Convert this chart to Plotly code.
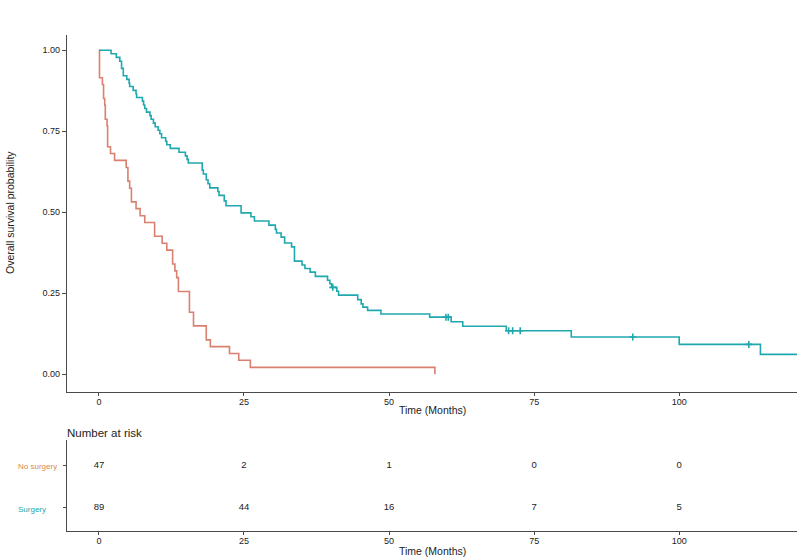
import plotly.graph_objects as go

# ---- data ----
# No surgery (Kaplan-Meier steps: time in months, survival after the step)
nosurg_t = [0, 0.1, 0.6, 0.8, 1.0, 1.1, 1.4, 1.5, 2.0, 2.7,
            4.7, 5.0, 5.3, 5.6, 6.4, 7.1, 7.9, 9.6, 10.9, 11.7,
            12.7, 13.1, 13.4, 13.7, 15.6, 16.3, 18.5, 19.2, 22.5, 24.1,
            26.1, 57.9]
nosurg_s = [1.000, 0.915, 0.894, 0.851, 0.830, 0.787, 0.766, 0.702, 0.681, 0.660,
            0.638, 0.596, 0.574, 0.532, 0.511, 0.489, 0.468, 0.426, 0.404, 0.383,
            0.340, 0.319, 0.298, 0.255, 0.191, 0.149, 0.106, 0.085, 0.064, 0.043,
            0.021, 0.000]

# Surgery
surg_t = [0, 2.1, 3.0, 3.6, 3.9, 4.2, 4.8, 5.2, 5.3, 5.9,
          6.4, 6.5, 7.5, 7.7, 7.9, 8.2, 8.8, 9.0, 9.4, 9.7,
          10.2, 10.5, 10.8, 11.5, 11.7, 12.3, 13.8, 14.9, 15.2, 15.4,
          17.8, 18.0, 18.5, 18.8, 19.1, 20.5, 20.7, 21.6, 21.9, 24.5,
          26.2, 26.8, 29.3, 30.4, 30.6, 31.4, 32.0, 33.2, 33.7, 35.0,
          35.5, 36.4, 37.3, 39.4, 39.8, 40.1, 41.0, 41.3, 44.6, 45.2,
          45.5, 46.3, 48.6, 57.0, 60.7, 62.7, 70.2, 81.4, 100.0, 114.0,
          120.3]
surg_s = [1.000, 0.989, 0.978, 0.966, 0.944, 0.921, 0.910, 0.899, 0.888, 0.876,
          0.865, 0.854, 0.843, 0.831, 0.820, 0.809, 0.798, 0.787, 0.775, 0.764,
          0.753, 0.742, 0.730, 0.719, 0.708, 0.697, 0.685, 0.674, 0.663, 0.652,
          0.630, 0.618, 0.600, 0.588, 0.575, 0.564, 0.552, 0.535, 0.520, 0.498,
          0.486, 0.473, 0.460, 0.447, 0.436, 0.423, 0.405, 0.393, 0.349, 0.337,
          0.326, 0.315, 0.302, 0.290, 0.279, 0.268, 0.256, 0.244, 0.230, 0.217,
          0.207, 0.197, 0.186, 0.176, 0.162, 0.148, 0.134, 0.115, 0.092, 0.061,
          0.061]

# censoring marks (Surgery)
cens_t = [40.3, 59.8, 60.2, 70.6, 71.3, 72.6, 92.0, 112.0]
cens_s = [0.268, 0.176, 0.176, 0.134, 0.134, 0.134, 0.115, 0.092]

# risk table
risk_times = [0, 25, 50, 75, 100]
risk_nosurg = [47, 2, 1, 0, 0]
risk_surg = [89, 44, 16, 7, 5]

x_ticks = [0, 25, 50, 75, 100]
y_ticks = [0, 0.25, 0.5, 0.75, 1.0]
y_ticklabels = ["0.00", "0.25", "0.50", "0.75", "1.00"]
row_names = ["No surgery", "Surgery"]

# ---- styling ----
RED = "#D9806F"
TEAL = "#1FA9AE"
NO_SURG_LABEL = "#D98A4E"
AXIS = "#4a4a4a"
TXT = "#222222"
FONT = "Liberation Sans, Arial, sans-serif"
W, H = 800, 560


def px_x(p):
    return p / W


def px_y(p):
    return (H - p) / H


fig = go.Figure()

fig.add_trace(go.Scatter(x=nosurg_t, y=nosurg_s, mode="lines", line_shape="hv",
                         line=dict(color=RED, width=1.6), showlegend=False,
                         xaxis="x", yaxis="y"))
fig.add_trace(go.Scatter(x=surg_t, y=surg_s, mode="lines", line_shape="hv",
                         line=dict(color=TEAL, width=1.6), showlegend=False,
                         xaxis="x", yaxis="y"))
fig.add_trace(go.Scatter(x=cens_t, y=cens_s, mode="markers",
                         marker=dict(symbol="cross-thin", size=5,
                                     line=dict(color=TEAL, width=1.6)),
                         showlegend=False, xaxis="x", yaxis="y"))

# risk table numbers
fig.add_trace(go.Scatter(x=risk_times, y=[2] * len(risk_times), mode="text",
                         text=[str(v) for v in risk_nosurg],
                         textfont=dict(family=FONT, size=9.5, color=TXT),
                         showlegend=False, xaxis="x2", yaxis="y2"))
fig.add_trace(go.Scatter(x=risk_times, y=[1] * len(risk_times), mode="text",
                         text=[str(v) for v in risk_surg],
                         textfont=dict(family=FONT, size=9.5, color=TXT),
                         showlegend=False, xaxis="x2", yaxis="y2"))

x_dom = [px_x(67), px_x(797)]
x_rng = [-5.5, 120.3]

common_x = dict(range=x_rng, domain=x_dom, tickvals=x_ticks, ticks="outside",
                ticklen=3, tickcolor=AXIS, showline=True, linecolor=AXIS,
                linewidth=1.2, showgrid=False, zeroline=False,
                ticklabelstandoff=-2,
                tickfont=dict(family=FONT, size=9, color=TXT), fixedrange=True)

fig.update_layout(
    width=W, height=H,
    margin=dict(l=0, r=0, t=0, b=0),
    paper_bgcolor="white", plot_bgcolor="white",
    font=dict(family=FONT, color=TXT),
    xaxis=dict(anchor="y", **common_x),
    yaxis=dict(domain=[px_y(392), px_y(35)], range=[-0.055, 1.047], anchor="x",
               tickvals=y_ticks, ticktext=y_ticklabels, ticks="outside",
               ticklen=4, tickcolor=AXIS, showline=True, linecolor=AXIS,
               linewidth=1.2, showgrid=False, zeroline=False,
               tickfont=dict(family=FONT, size=9, color=TXT)),
    xaxis2=dict(anchor="y2", **common_x),
    yaxis2=dict(domain=[px_y(531), px_y(440)], range=[0.452, 2.619], anchor="x2",
                tickvals=[1, 2], ticktext=["", ""], ticks="outside", ticklen=3,
                tickcolor=AXIS, showline=True, linecolor=AXIS, linewidth=1.2,
                showgrid=False, zeroline=False),
)

ann = [
    dict(text="Time (Months)", x=px_x(432), y=px_y(410), size=10.5, xanchor="center"),
    dict(text="Time (Months)", x=px_x(432), y=px_y(551), size=10.5, xanchor="center"),
    dict(text="Number at risk", x=px_x(65), y=px_y(433), size=11.5, xanchor="left"),
]
for a in ann:
    fig.add_annotation(text=a["text"], x=a["x"], y=a["y"], xref="paper", yref="paper",
                       xanchor=a["xanchor"], yanchor="middle", showarrow=False,
                       font=dict(family=FONT, size=a["size"], color=TXT))

fig.add_annotation(text="Overall survival probability", x=px_x(10), y=px_y(213),
                   xref="paper", yref="paper", textangle=-90, showarrow=False,
                   xanchor="center", yanchor="middle",
                   font=dict(family=FONT, size=10.5, color=TXT))

row_colors = [NO_SURG_LABEL, TEAL]
row_y = [466, 509]
for name, col, yy in zip(row_names, row_colors, row_y):
    fig.add_annotation(text=name, x=px_x(16), y=px_y(yy), xref="paper", yref="paper",
                       xanchor="left", yanchor="middle", showarrow=False,
                       font=dict(family=FONT, size=8, color=col))

fig.write_html("out.html",
               config={"displayModeBar": False},
               post_script="document.body.style.margin='0px';"
                           "document.body.style.overflow='hidden';")
